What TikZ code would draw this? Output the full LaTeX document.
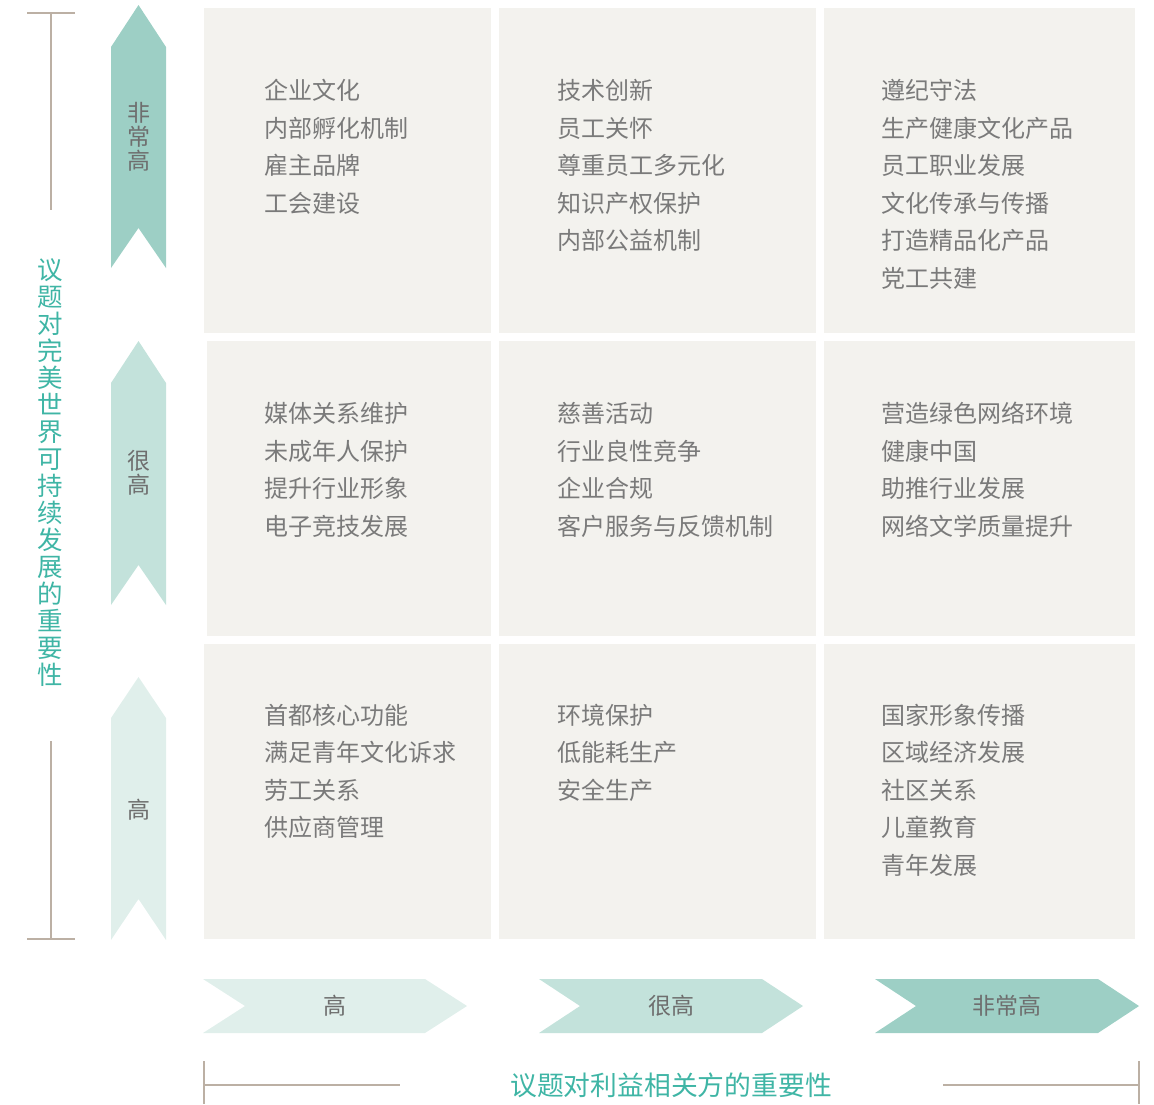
\documentclass[tikz,border=0pt]{standalone}
\usepackage{fontspec}
\setmainfont{Noto Sans CJK SC}
\definecolor{cellgray}{HTML}{F3F2EE}
\definecolor{itemgray}{HTML}{7A7A7A}
\definecolor{levelA}{HTML}{9DCFC5}
\definecolor{levelB}{HTML}{C3E2DB}
\definecolor{levelC}{HTML}{E0EFEB}
\definecolor{titleteal}{HTML}{3FB5A5}
\definecolor{ruletan}{HTML}{BCB0A4}
\begin{document}
\begin{tikzpicture}[x=1pt,y=-1pt,
    item/.style={anchor=west, inner sep=0pt, text=itemgray, font=\fontsize{24}{28}\selectfont},
    level/.style={inner sep=0pt, align=center, text=itemgray!90!black, font=\fontsize{23}{24}\selectfont},
    axis/.style={inner sep=0pt, align=center, text=titleteal, font=\fontsize{25.5}{27}\selectfont},
    rule/.style={ruletan, line width=1.4pt}]
    \useasboundingbox (0,0) rectangle (1154,1104);

    % Grid cells
    \fill[cellgray] (204,8) rectangle (491,333);
    \fill[cellgray] (499,8) rectangle (816,333);
    \fill[cellgray] (824,8) rectangle (1135,333);
    \fill[cellgray] (207,341) rectangle (491,636);
    \fill[cellgray] (499,341) rectangle (816,636);
    \fill[cellgray] (824,341) rectangle (1135,636);
    \fill[cellgray] (204,644) rectangle (491,939);
    \fill[cellgray] (499,644) rectangle (816,939);
    \fill[cellgray] (824,644) rectangle (1135,939);

    % Vertical level arrows
    \fill[levelA] (138.5,5) -- (166,47) -- (166,268) -- (138.5,228) -- (111,268) -- (111,47) -- cycle;
    \fill[levelB] (138.5,341) -- (166,383) -- (166,605) -- (138.5,565) -- (111,605) -- (111,383) -- cycle;
    \fill[levelC] (138.5,677) -- (166,718) -- (166,940) -- (138.5,899) -- (111,940) -- (111,718) -- cycle;
    \node[level] (vA) at (138.5,137) {非\\常\\高};
    \node[level] (vB) at (138.5,473) {很\\高};
    \node[level] (vC) at (138.5,810) {高};

    % Horizontal level arrows
    \fill[levelC] (203,979) -- (425,979) -- (467,1006) -- (425,1033) -- (203,1033) -- (245,1006) -- cycle;
    \fill[levelB] (539,979) -- (762,979) -- (803,1006) -- (762,1033) -- (539,1033) -- (580,1006) -- cycle;
    \fill[levelA] (875,979) -- (1098,979) -- (1139,1006) -- (1098,1033) -- (875,1033) -- (916,1006) -- cycle;
    \node[level] (hC) at (335,1006) {高};
    \node[level] (hB) at (671,1006) {很高};
    \node[level] (hA) at (1007,1006) {非常高};

    % Left axis
    \draw[rule] (27,13) -- (75,13);
    \draw[rule] (51,13) -- (51,210);
    \draw[rule] (51,741) -- (51,939);
    \draw[rule] (27,939) -- (75,939);
    \node[axis] (yaxis) at (50,473) {议\\题\\对\\完\\美\\世\\界\\可\\持\\续\\发\\展\\的\\重\\要\\性};

    % Bottom axis
    \draw[rule] (204,1061) -- (204,1104);
    \draw[rule] (204,1085) -- (400,1085);
    \draw[rule] (943,1085) -- (1139,1085);
    \draw[rule] (1139,1061) -- (1139,1104);
    \node[axis, font=\fontsize{26.8}{27}\selectfont] (xaxis) at (671,1085) {议题对利益相关方的重要性};

    % Row 1
    \node[item] (a1) at (264,90) {企业文化};
    \node[item] (a2) at (264,128) {内部孵化机制};
    \node[item] (a3) at (264,165) {雇主品牌};
    \node[item] (a4) at (264,203) {工会建设};
    \node[item] (b1) at (557,90) {技术创新};
    \node[item] (b2) at (557,128) {员工关怀};
    \node[item] (b3) at (557,165) {尊重员工多元化};
    \node[item] (b4) at (557,203) {知识产权保护};
    \node[item] (b5) at (557,240) {内部公益机制};
    \node[item] (c1) at (881,90) {遵纪守法};
    \node[item] (c2) at (881,128) {生产健康文化产品};
    \node[item] (c3) at (881,165) {员工职业发展};
    \node[item] (c4) at (881,203) {文化传承与传播};
    \node[item] (c5) at (881,240) {打造精品化产品};
    \node[item] (c6) at (881,278) {党工共建};

    % Row 2
    \node[item] (d1) at (264,413) {媒体关系维护};
    \node[item] (d2) at (264,451) {未成年人保护};
    \node[item] (d3) at (264,488) {提升行业形象};
    \node[item] (d4) at (264,526) {电子竞技发展};
    \node[item] (e1) at (557,413) {慈善活动};
    \node[item] (e2) at (557,451) {行业良性竞争};
    \node[item] (e3) at (557,488) {企业合规};
    \node[item] (e4) at (557,526) {客户服务与反馈机制};
    \node[item] (f1) at (881,413) {营造绿色网络环境};
    \node[item] (f2) at (881,451) {健康中国};
    \node[item] (f3) at (881,488) {助推行业发展};
    \node[item] (f4) at (881,526) {网络文学质量提升};

    % Row 3
    \node[item] (g1) at (264,715) {首都核心功能};
    \node[item] (g2) at (264,752) {满足青年文化诉求};
    \node[item] (g3) at (264,790) {劳工关系};
    \node[item] (g4) at (264,827) {供应商管理};
    \node[item] (h1) at (557,715) {环境保护};
    \node[item] (h2) at (557,752) {低能耗生产};
    \node[item] (h3) at (557,790) {安全生产};
    \node[item] (i1) at (881,715) {国家形象传播};
    \node[item] (i2) at (881,752) {区域经济发展};
    \node[item] (i3) at (881,790) {社区关系};
    \node[item] (i4) at (881,827) {儿童教育};
    \node[item] (i5) at (881,865) {青年发展};
\end{tikzpicture}
\end{document}
